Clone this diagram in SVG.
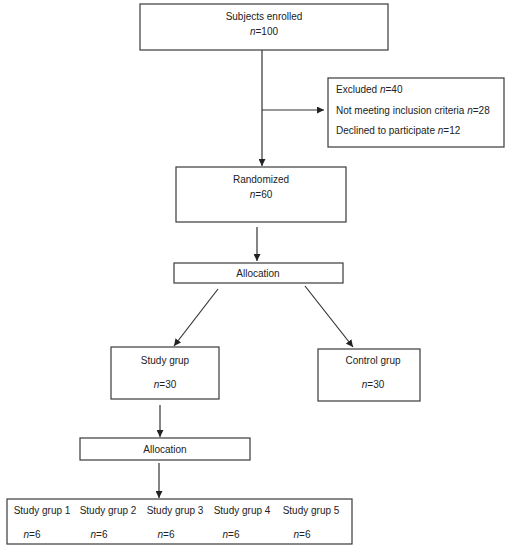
<svg xmlns="http://www.w3.org/2000/svg" width="509" height="550" viewBox="0 0 509 550">
<style>
.box{fill:#fff;stroke:#3a3a3a;stroke-width:1.2}
.t{font-family:"Liberation Sans",Arial,sans-serif;font-size:10px;fill:#222}
.c{text-anchor:middle}
.ln{stroke:#333;stroke-width:1.2;fill:none}
</style>
<defs>
<marker id="ah" viewBox="0 0 10 10" refX="10" refY="5" markerWidth="7" markerHeight="7" markerUnits="userSpaceOnUse" orient="auto">
<path d="M0,0 L10,5 L0,10 z" fill="#222"/>
</marker>
</defs>
<rect width="509" height="550" fill="#fff"/>
<g id="connectors">
<line class="ln" x1="262" y1="50" x2="262" y2="166" marker-end="url(#ah)"/>
<line class="ln" x1="262" y1="110" x2="324" y2="110" marker-end="url(#ah)"/>
<line class="ln" x1="257" y1="227" x2="257" y2="261" marker-end="url(#ah)"/>
<line class="ln" x1="218" y1="289" x2="174" y2="346" marker-end="url(#ah)"/>
<line class="ln" x1="305" y1="286" x2="353" y2="347" marker-end="url(#ah)"/>
<line class="ln" x1="160" y1="405" x2="160" y2="437" marker-end="url(#ah)"/>
<line class="ln" x1="159" y1="463" x2="159" y2="498" marker-end="url(#ah)"/>
</g>
<g id="enrolled">
<rect class="box" x="140" y="4" width="248" height="46"/>
<text class="t c" x="264" y="20">Subjects enrolled</text>
<text class="t c" x="264" y="35"><tspan font-style="italic">n</tspan>=100</text>
</g>
<g id="excluded">
<rect class="box" x="328" y="78" width="176" height="69"/>
<text class="t" x="336" y="93">Excluded <tspan font-style="italic">n</tspan>=40</text>
<text class="t" x="336" y="114">Not meeting inclusion criteria <tspan font-style="italic">n</tspan>=28</text>
<text class="t" x="336" y="134">Declined to participate <tspan font-style="italic">n</tspan>=12</text>
</g>
<g id="randomized">
<rect class="box" x="176" y="167" width="170" height="55"/>
<text class="t c" x="261" y="183">Randomized</text>
<text class="t c" x="261" y="198"><tspan font-style="italic">n</tspan>=60</text>
</g>
<g id="allocation1">
<rect class="box" x="174" y="263" width="169" height="20"/>
<text class="t c" x="258" y="277">Allocation</text>
</g>
<g id="study">
<rect class="box" x="111" y="347" width="108" height="52"/>
<text class="t c" x="165" y="364">Study grup</text>
<text class="t c" x="165" y="388"><tspan font-style="italic">n</tspan>=30</text>
</g>
<g id="control">
<rect class="box" x="318" y="349" width="102" height="52"/>
<text class="t c" x="373" y="364">Control grup</text>
<text class="t c" x="373" y="388"><tspan font-style="italic">n</tspan>=30</text>
</g>
<g id="allocation2">
<rect class="box" x="80" y="438" width="170" height="22"/>
<text class="t c" x="165" y="453">Allocation</text>
</g>
<g id="groups">
<rect class="box" x="7" y="499" width="345" height="45"/>
<text class="t c" x="42" y="514">Study grup 1</text>
<text class="t c" x="108" y="514">Study grup 2</text>
<text class="t c" x="175" y="514">Study grup 3</text>
<text class="t c" x="242" y="514">Study grup 4</text>
<text class="t c" x="311" y="514">Study grup 5</text>
<text class="t c" x="32" y="538"><tspan font-style="italic">n</tspan>=6</text>
<text class="t c" x="99" y="538"><tspan font-style="italic">n</tspan>=6</text>
<text class="t c" x="166" y="538"><tspan font-style="italic">n</tspan>=6</text>
<text class="t c" x="231" y="538"><tspan font-style="italic">n</tspan>=6</text>
<text class="t c" x="302" y="538"><tspan font-style="italic">n</tspan>=6</text>
</g>
</svg>
